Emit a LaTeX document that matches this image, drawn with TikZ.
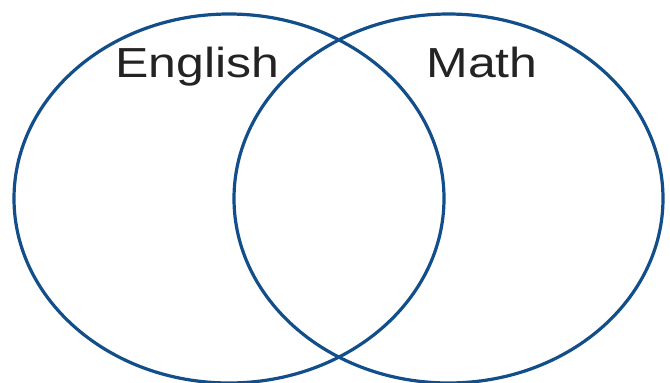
\documentclass[tikz,border=0pt]{standalone}
\usepackage{fontspec}
\usepackage{graphicx}
\setmainfont{Liberation Sans}
\definecolor{vennblue}{RGB}{18,78,138}
\definecolor{labelgray}{RGB}{35,35,35}
\begin{document}
\begin{tikzpicture}[x=1pt,y=-1pt,
  vennset/.style={draw=vennblue,line width=3.2pt},
  setlabel/.style={anchor=base,inner sep=0pt,text=labelgray,font=\fontsize{42}{48}\selectfont}]
\useasboundingbox[fill=white] (0,0) rectangle (670,383);
\begin{scope}
\clip (0,0) rectangle (670,383);
\draw[vennset] (229,198.5) ellipse [x radius=215, y radius=184.5];
\draw[vennset] (448.5,198.5) ellipse [x radius=214.5, y radius=184.5];
\end{scope}
\node[setlabel] (english) at (197.5,77) {\scalebox{1.19}[1]{English}};
\node[setlabel] (math) at (482,77) {\scalebox{1.19}[1]{Math}};
\end{tikzpicture}
\end{document}
